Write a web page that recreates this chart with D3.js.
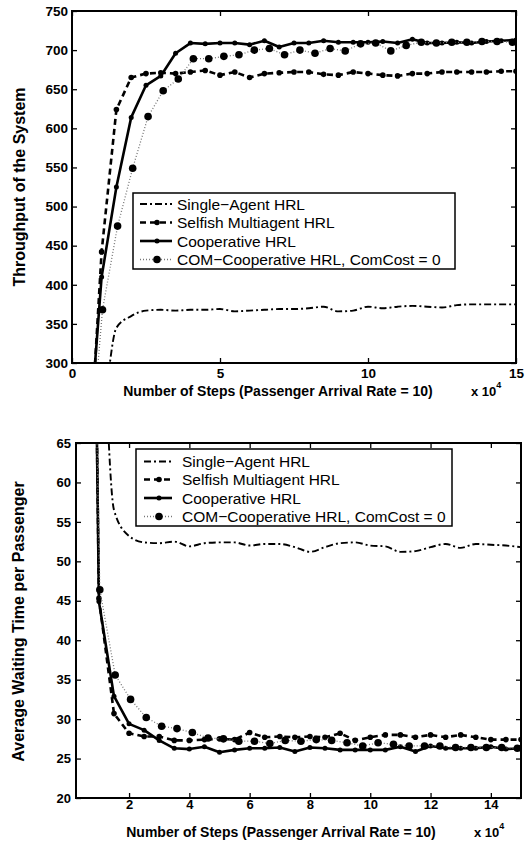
<!DOCTYPE html>
<html><head><meta charset="utf-8">
<script src="https://cdn.jsdelivr.net/npm/d3@7"></script>
<style>
body{margin:0;background:#fff}
svg{display:block}
text{font-family:"Liberation Sans",Arial,Helvetica,sans-serif;fill:#000}
</style>
</head><body>
<svg id="c" width="526" height="842"></svg>
<script>
// x positions (x 10^4 steps)
const steps = [0.5,1,1.5,2,2.5,3,3.5,4,4.5,5,5.5,6,6.5,7,7.5,8,8.5,9,9.5,10,10.5,11,11.5,12,12.5,13,13.5,14,14.5,15];
const comSteps = [0.51,1.03,1.54,2.05,2.57,3.08,3.59,4.10,4.62,5.13,5.64,6.16,6.67,7.18,7.70,8.21,8.72,9.23,9.75,10.26,10.77,11.29,11.80,12.31,12.83,13.34,13.85,14.36,14.88];

// Throughput of the System
const thrSingle  = [200,230,345,360,367,368,367,368,368,369,366,367,368,369,369,370,372,366,367,372,370,372,373,372,371,374,375,375,375,375];
const thrSelfish = [120,442,624,665,670,671,670,672,674,668,672,665,670,671,672,672,669,668,672,670,668,667,670,670,672,672,672,672,673,673];
const thrCoop    = [160,410,525,614,655,667,696,709,708,709,709,707,712,704,709,709,712,710,710,710,711,709,714,709,709,710,709,711,712,713];
const thrCom     = [132,368,475,549,615,648,663,689,689,692,694,700,702,694,700,696,702,699,708,709,699,706,710,709,710,710,711,711,710];

// Average Waiting Time per Passenger
const waitSingle  = [120,93,56.5,53.2,52.4,52.3,52.5,51.9,52.3,52.4,52.4,52.0,52.2,52.2,51.8,51.2,51.8,52.3,52.4,52.0,51.9,51.2,51.3,51.8,52.2,51.7,52.2,52.1,52.0,51.8];
const waitSelfish = [200,45.3,30.7,28.2,27.8,27.8,27.3,27.3,27.4,27.5,27.4,28.3,27.7,27.8,27.7,27.8,27.7,28.2,27.3,27.7,28.0,28.0,27.7,28.0,27.7,28.0,27.7,27.4,27.4,27.4];
const waitCoop    = [200,44.9,32.9,29.4,28.6,27.3,26.3,26.2,26.5,25.8,26.1,26.3,26.3,26.4,25.9,26.4,26.3,26.1,26.1,26.1,26.1,26.5,25.9,26.6,26.3,26.3,26.3,26.5,26.2,26.3];
const waitCom     = [150,46.4,35.6,32.5,30.2,29.1,28.8,28.3,27.6,27.5,27.2,27.2,26.9,27.3,27.2,27.4,27.3,27.0,26.6,27.0,26.8,26.6,26.6,26.6,26.4,26.4,26.4,26.4,26.3];

const seriesNames = ["Single\u2212Agent HRL","Selfish Multiagent HRL","Cooperative HRL","COM\u2212Cooperative HRL, ComCost = 0"];
const topXTicks = [0,5,10,15];
const topYTicks = [300,350,400,450,500,550,600,650,700,750];
const botXTicks = [2,4,6,8,10,12,14];
const botYTicks = [20,25,30,35,40,45,50,55,60,65];
const xTitle = "Number of Steps (Passenger Arrival Rate = 10)";

const styles = [
  {width:1.9, dash:"7,3,2,3", color:"#000", r:0},
  {width:2.6, dash:"6,4", color:"#000", r:2.8},
  {width:2.6, dash:null, color:"#000", r:2.5},
  {width:1.3, dash:"1,2", color:"#777", r:3.8}
];

const svg = d3.select("#c");

function panel(o){
  const g = svg.append("g");
  const x = d3.scaleLinear().domain(o.xDomain).range([o.left,o.right]);
  const y = d3.scaleLinear().domain(o.yDomain).range([o.bottom,o.top]);
  const id = "clip"+o.id;
  svg.append("clipPath").attr("id",id).append("rect")
    .attr("x",o.left).attr("y",o.top).attr("width",o.right-o.left).attr("height",o.bottom-o.top);

  const ax = (gen, tr) => {
    const a = g.append("g").attr("transform",tr).call(gen);
    a.select(".domain").remove();
    a.selectAll("line").attr("stroke","#000").attr("stroke-width",1.3);
    a.selectAll("text").attr("font-size",o.tickFont).attr("font-weight","bold").attr("fill","#000");
    return a;
  };
  ax(d3.axisBottom(x).tickValues(o.xTicks).tickSize(-5).tickPadding(o.xPad).tickFormat(d3.format("d")), `translate(0,${o.bottom})`);
  ax(d3.axisTop(x).tickValues(o.xTicks).tickSize(-5).tickFormat(""), `translate(0,${o.top})`);
  ax(d3.axisLeft(y).tickValues(o.yTicks).tickSize(-5).tickPadding(o.yPad).tickFormat(d3.format("d")), `translate(${o.left},0)`);
  ax(d3.axisRight(y).tickValues(o.yTicks).tickSize(-5).tickFormat(""), `translate(${o.right},0)`);

  const plot = g.append("g").attr("clip-path",`url(#${id})`);
  o.series.forEach((s,i)=>{
    const st = styles[i];
    const pts = s.xs.map((d,j)=>[d,s.ys[j]]);
    const line = d3.line().x(d=>x(d[0])).y(d=>y(d[1]))
      .curve(i===0 ? d3.curveMonotoneX : d3.curveLinear);
    plot.append("path").attr("d",line(pts)).attr("fill","none")
      .attr("stroke",st.color).attr("stroke-width",st.width)
      .attr("stroke-dasharray",st.dash).attr("stroke-linejoin","round");
    if(st.r>0){
      plot.selectAll(null).data(pts).enter().append("circle")
        .attr("cx",d=>x(d[0])).attr("cy",d=>y(d[1])).attr("r",st.r).attr("fill","#000");
    }
  });

  g.append("rect").attr("x",o.left).attr("y",o.top).attr("width",o.right-o.left).attr("height",o.bottom-o.top)
    .attr("fill","none").attr("stroke","#000").attr("stroke-width",2);

  const L = o.legend;
  g.append("rect").attr("x",L.x0).attr("y",L.y0).attr("width",L.x1-L.x0).attr("height",L.y1-L.y0)
    .attr("fill","#fff").attr("stroke","#000").attr("stroke-width",1.5);
  seriesNames.forEach((nm,i)=>{
    const st = styles[i];
    const yy = L.rows[i];
    g.append("line").attr("x1",L.s0).attr("x2",L.s1).attr("y1",yy).attr("y2",yy)
      .attr("stroke",st.color).attr("stroke-width",st.width).attr("stroke-dasharray",st.dash);
    if(st.r>0) g.append("circle").attr("cx",(L.s0+L.s1)/2+1).attr("cy",yy).attr("r",st.r).attr("fill","#000");
    g.append("text").attr("x",L.tx).attr("y",yy).attr("dy","0.36em").attr("font-size",15.5).text(nm);
  });

  g.append("text").attr("transform",`translate(${o.yTitleX},${(o.top+o.bottom)/2+o.yTitleShift}) rotate(-90)`)
    .attr("text-anchor","middle").attr("font-size",16).attr("font-weight","bold").text(o.yTitle);
  g.append("text").attr("x",o.xTitleX).attr("y",o.xTitleY).attr("text-anchor","middle")
    .attr("font-size",14).attr("font-weight","bold").text(xTitle);
  const e = g.append("text").attr("x",o.expX).attr("y",o.xTitleY).attr("font-size",13).attr("font-weight","bold");
  e.append("tspan").text("x 10");
  e.append("tspan").attr("dy",-8).attr("font-size",9).text("4");
}

panel({
  id:"a", left:72, right:516, top:11, bottom:363,
  xDomain:[0,15], yDomain:[300,750], xTicks:topXTicks, yTicks:topYTicks,
  tickFont:13.5, xPad:5, yPad:4,
  series:[{xs:steps,ys:thrSingle},{xs:steps,ys:thrSelfish},{xs:steps,ys:thrCoop},{xs:comSteps,ys:thrCom}],
  legend:{x0:133,x1:455,y0:193,y1:269,rows:[204,222.5,241,259.5],s0:140,s1:172,tx:177},
  yTitle:"Throughput of the System", yTitleX:25, yTitleShift:0,
  xTitleX:278, xTitleY:396, expX:471
});
panel({
  id:"b", left:76, right:521, top:443, bottom:798,
  xDomain:[0.24,15], yDomain:[20,65], xTicks:botXTicks, yTicks:botYTicks,
  tickFont:13, xPad:1.5, yPad:5,
  series:[{xs:steps,ys:waitSingle},{xs:steps,ys:waitSelfish},{xs:steps,ys:waitCoop},{xs:comSteps,ys:waitCom}],
  legend:{x0:136,x1:452,y0:449,y1:526,rows:[461.5,479.5,498,516.5],s0:144,s1:172,tx:182},
  yTitle:"Average Waiting Time per Passenger", yTitleX:23.5, yTitleShift:1,
  xTitleX:281, xTitleY:837, expX:474
});
</script>
</body></html>
